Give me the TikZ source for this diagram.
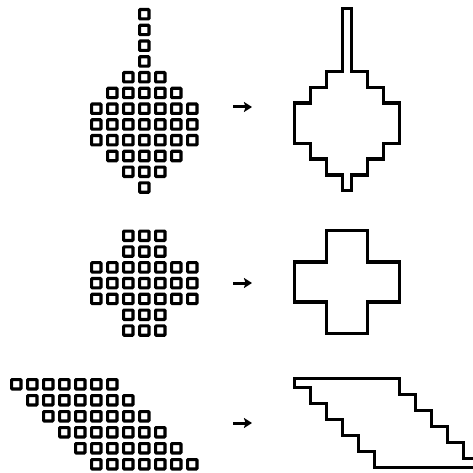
\documentclass[tikz,border=0pt]{standalone}
\usetikzlibrary{arrows.meta}
\newcommand\gL[1]{\XO+1.7+16*#1}
\newcommand\gR[1]{\XO+10.3+16*#1}
\newcommand\gT[1]{\YO+1.7+\QQ*#1}
\newcommand\gB[1]{\YO+10.3+\QQ*#1}
\begin{document}
\begin{tikzpicture}[x=1pt,y=-1pt,
  cellbox/.style={draw=black,line width=3.1pt,rounded corners=0.8pt},
  outline/.style={draw=black,line width=3.4pt,line join=miter},
  arr/.style={-{Stealth[length=8pt,width=10pt,inset=1.5pt]},line width=3pt}]
\useasboundingbox (0,0) rectangle (473,473);
\clip (0,0) rectangle (473,473);
% ---------- figure 1: left cells ----------
\foreach \r/\a/\b in {0/3/3,1/3/3,2/3/3,3/3/3,4/2/4,5/1/5,6/0/6,7/0/6,8/0/6,9/1/5,10/2/4,11/3/3}{
  \foreach \c in {\a,...,\b}{
    \draw[cellbox] ({90+16*\c+1.55},{8+15.75*\r+1.55}) rectangle ++(9.4,9.4);
  }
}
% ---------- figure 1: outline ----------
\def\XO{293}\def\YO{7}\def\QQ{15.75}
\draw[outline] ({\gL3},{\gT0}) -- ({\gR3},{\gT0}) -- ({\gR3},{\gT4}) -- ({\gR4},{\gT4})
  -- ({\gR4},{\gT5}) -- ({\gR5},{\gT5}) -- ({\gR5},{\gT6}) -- ({\gR6},{\gT6})
  -- ({\gR6},{\gB8}) -- ({\gR5},{\gB8}) -- ({\gR5},{\gB9}) -- ({\gR4},{\gB9})
  -- ({\gR4},{\gB{10}}) -- ({\gR3},{\gB{10}}) -- ({\gR3},{\gB{11}}) -- ({\gL3},{\gB{11}})
  -- ({\gL3},{\gB{10}}) -- ({\gL2},{\gB{10}}) -- ({\gL2},{\gB9}) -- ({\gL1},{\gB9})
  -- ({\gL1},{\gB8}) -- ({\gL0},{\gB8}) -- ({\gL0},{\gT6}) -- ({\gL1},{\gT6})
  -- ({\gL1},{\gT5}) -- ({\gL2},{\gT5}) -- ({\gL2},{\gT4}) -- ({\gL3},{\gT4}) -- cycle;
% ---------- figure 2: left cells ----------
\foreach \r/\a/\b in {0/2/4,1/2/4,2/0/6,3/0/6,4/0/6,5/2/4,6/2/4}{
  \foreach \c in {\a,...,\b}{
    \draw[cellbox] ({90+16*\c+1.55},{229.5+15.8*\r+1.55}) rectangle ++(9.4,9.4);
  }
}
% ---------- figure 2: outline ----------
\def\XO{293}\def\YO{228.5}\def\QQ{15.8}
\draw[outline] ({\gL2},{\gT0}) -- ({\gR4},{\gT0}) -- ({\gR4},{\gT2}) -- ({\gR6},{\gT2})
  -- ({\gR6},{\gB4}) -- ({\gR4},{\gB4}) -- ({\gR4},{\gB6}) -- ({\gL2},{\gB6})
  -- ({\gL2},{\gB4}) -- ({\gL0},{\gB4}) -- ({\gL0},{\gT2}) -- ({\gL2},{\gT2}) -- cycle;
% ---------- figure 3: left cells ----------
\foreach \r in {0,...,5}{
  \foreach \k in {0,...,6}{
    \draw[cellbox] ({10+16*(\r+\k)+1.55},{378+16*\r+1.55}) rectangle ++(9.4,9.4);
  }
}
% ---------- figure 3: outline ----------
\def\XO{293}\def\YO{377}\def\QQ{16}
\draw[outline] ({\gL0},{\gT0}) -- ({\gR6},{\gT0}) -- ({\gR6},{\gT1}) -- ({\gR7},{\gT1})
  -- ({\gR7},{\gT2}) -- ({\gR8},{\gT2}) -- ({\gR8},{\gT3}) -- ({\gR9},{\gT3})
  -- ({\gR9},{\gT4}) -- ({\gR{10}},{\gT4}) -- ({\gR{10}},{\gT5}) -- ({\gR{11}},{\gT5})
  -- ({\gR{11}},{\gB5}) -- ({\gL5},{\gB5}) -- ({\gL5},{\gB4}) -- ({\gL4},{\gB4})
  -- ({\gL4},{\gB3}) -- ({\gL3},{\gB3}) -- ({\gL3},{\gB2}) -- ({\gL2},{\gB2})
  -- ({\gL2},{\gB1}) -- ({\gL1},{\gB1}) -- ({\gL1},{\gB0}) -- ({\gL0},{\gB0}) -- cycle;
% ---------- arrows ----------
\coordinate (a1s) at (233,107); \coordinate (a1e) at (252,107);
\coordinate (a2s) at (233,283); \coordinate (a2e) at (252,283);
\coordinate (a3s) at (233,423); \coordinate (a3e) at (252,423);
\draw[arr] (a1s) -- (a1e);
\draw[arr] (a2s) -- (a2e);
\draw[arr] (a3s) -- (a3e);
\end{tikzpicture}
\end{document}
